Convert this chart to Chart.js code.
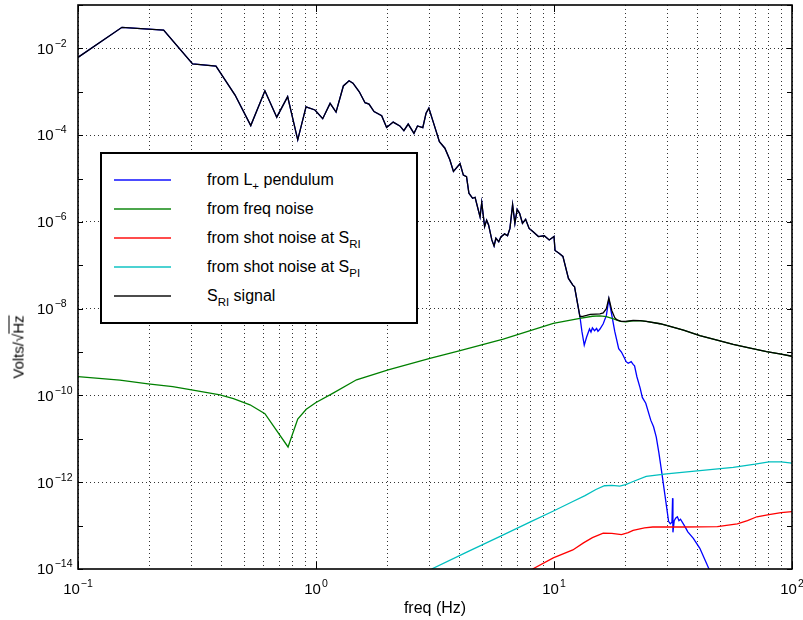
<!DOCTYPE html>
<html>
<head>
<meta charset="utf-8">
<script src="https://cdn.jsdelivr.net/npm/chart.js@4/dist/chart.umd.min.js"></script>
<style>
  html, body { margin: 0; padding: 0; background: #fff; }
  #wrap { position: relative; width: 803px; height: 620px; font-family: "Liberation Sans", Arial, Helvetica, sans-serif; color: #000; }
  #plot { position: absolute; left: 0; top: 0; width: 803px; height: 620px; }
  #legend { position: absolute; left: 100px; top: 152px; width: 314px; height: 168px; border: 2px solid #000; background: #fff; }
  .row { position: absolute; left: 0; width: 314px; height: 18px; }
  .swatch { position: absolute; left: 12px; top: 8px; width: 57px; height: 2px; }
  .txt { position: absolute; left: 105px; top: 0; font-size: 16px; line-height: 18px; white-space: nowrap; }
  .txt sub { font-size: 11.5px; vertical-align: -5px; line-height: 0; }
  #ytitle { position: absolute; left: 18px; top: 347px; transform: translate(-50%, -50%) rotate(-90deg); font-size: 15px; white-space: nowrap; }
  #ytitle .rad { text-decoration: overline; }
</style>
</head>
<body>
<div id="wrap">
  <canvas id="plot" width="803" height="620"></canvas>
  <div id="ytitle">Volts/√<span class="rad">Hz</span></div>
  <div id="legend"></div>
</div>
<script>
// Low band: the pendulum term dominates here and the S_RI signal equals it
const lowBandFreq = [0.1, 0.153, 0.229, 0.303, 0.38, 0.457, 0.532, 0.61, 0.684, 0.76, 0.838, 0.908, 0.99, 1.067, 1.146, 1.214, 1.303, 1.377, 1.43, 1.52, 1.607, 1.67, 1.753, 1.888, 1.98, 2.11, 2.25, 2.34, 2.44, 2.58, 2.67, 2.81, 2.9, 2.98, 3.11, 3.3, 3.48, 3.65, 3.78, 4.03, 4.16, 4.29, 4.39, 4.55, 4.66, 4.89, 4.97, 5.11, 5.21, 5.31, 5.48, 5.6, 5.7, 5.86, 5.98, 6.2, 6.38, 6.53, 6.7, 6.85, 7.0, 7.17, 7.37, 7.6, 7.86, 8.15, 8.6, 9.1, 9.55, 10.0, 10.1, 10.5, 10.9, 11.5, 12.0, 12.2, 12.85];
const lowBandAmp = [6.2e-3, 3.06e-2, 2.65e-2, 4.37e-3, 3.9e-3, 8.4e-4, 1.66e-4, 1.05e-3, 2.6e-4, 7.7e-4, 7.8e-5, 4.5e-4, 3.8e-4, 2.4e-4, 5.4e-4, 3.4e-4, 1.36e-3, 1.8e-3, 1.58e-3, 1.0e-3, 5.6e-4, 5.2e-4, 3.5e-4, 2.8e-4, 1.5e-4, 2.0e-4, 1.63e-4, 1.27e-4, 1.8e-4, 1.1e-4, 1.63e-4, 1.49e-4, 3.2e-4, 4.2e-4, 2.0e-4, 7.1e-5, 5.0e-5, 2.7e-5, 1.45e-5, 2.2e-5, 1.2e-5, 1.1e-5, 4.6e-6, 3.5e-6, 3.7e-6, 1.3e-6, 2.8e-6, 7.8e-7, 1.1e-6, 8.5e-7, 3.85e-7, 2.8e-7, 4.2e-7, 3.5e-7, 4.5e-7, 5.3e-7, 4.8e-7, 7.1e-7, 2.5e-6, 9.3e-7, 1.95e-6, 1.58e-6, 9.3e-7, 1.15e-6, 7.1e-7, 6.0e-7, 4.6e-7, 4.8e-7, 3.85e-7, 4.6e-7, 2.2e-7, 1.9e-7, 1.6e-7, 5.0e-8, 3.5e-8, 3.2e-8, 6.6e-9];

// Pendulum term above 13 Hz
const pendulumTailFreq = [13.1, 13.4, 13.7, 14.1, 14.3, 14.5, 14.8, 15.1, 15.3, 15.6, 16.1, 16.6, 17.0, 17.5, 18.0, 18.7, 19.2, 19.6, 20.1, 20.5, 21.1, 21.5, 21.8, 22.3, 23.0, 23.5, 24.3, 25.5, 26.2, 26.9, 27.6, 28.4, 29.3, 30.3, 30.8, 31.3, 31.5, 31.6, 32.0, 32.5, 33.0, 33.5, 34.0, 35.3, 36.5, 38.5, 41.0, 44.8, 47.0];
const pendulumTailAmp = [3.0e-9, 1.45e-9, 2.2e-9, 3.4e-9, 2.9e-9, 3.6e-9, 3.1e-9, 3.5e-9, 3.0e-9, 3.4e-9, 4.5e-9, 7.0e-9, 1.65e-8, 7.0e-9, 3.0e-9, 1.2e-9, 1.0e-9, 8.0e-10, 6.0e-10, 5.5e-10, 6.0e-10, 5.2e-10, 4.8e-10, 2.7e-10, 1.5e-10, 9.0e-11, 6.6e-11, 2.7e-11, 1.9e-11, 1.1e-11, 4.7e-12, 1.6e-12, 4.7e-13, 1.26e-13, 1.1e-13, 1.2e-13, 4.3e-13, 7.0e-14, 1.3e-13, 1.5e-13, 1.6e-13, 1.3e-13, 1.4e-13, 1.0e-13, 7.2e-14, 5.1e-14, 3.0e-14, 1.0e-14, 7.0e-15];

// S_RI signal above 13 Hz
const signalTailFreq = [13.1, 13.7, 14.2, 15.0, 15.6, 16.1, 16.6, 17.0, 17.5, 18.0, 18.4, 19.2, 20.0, 21.5, 23.0, 24.4, 27.9, 29.7, 35.0, 41.0, 48.0, 56.6, 66.0, 78.2, 90.0, 100.0];
const signalTailAmp = [6.6e-9, 7.0e-9, 7.4e-9, 7.5e-9, 7.6e-9, 8.0e-9, 1.0e-8, 1.75e-8, 9.0e-9, 6.2e-9, 5.5e-9, 5.1e-9, 5.1e-9, 5.35e-9, 5.3e-9, 5.1e-9, 4.5e-9, 4.1e-9, 3.2e-9, 2.4e-9, 1.9e-9, 1.5e-9, 1.25e-9, 1.03e-9, 9.0e-10, 8.0e-10];

// Frequency noise term
const freqNoiseFreq = [0.1, 0.15, 0.197, 0.25, 0.3, 0.395, 0.45, 0.528, 0.61, 0.763, 0.838, 0.91, 1.0, 1.18, 1.48, 2.01, 3.01, 4.03, 6.12, 9.93, 12.85, 14.5, 15.6, 16.6, 17.8, 19.0, 20.0, 21.5, 23.0, 24.4, 27.9, 29.7, 35.0, 41.0, 48.0, 56.6, 66.0, 78.2, 90.0, 100.0];
const freqNoiseAmp = [2.72e-10, 2.25e-10, 1.85e-10, 1.6e-10, 1.35e-10, 1.03e-10, 8.5e-11, 6.1e-11, 3.8e-11, 6.5e-12, 2.85e-11, 4.8e-11, 6.9e-11, 1.13e-10, 2.3e-10, 3.9e-10, 7.2e-10, 1.08e-9, 2.0e-9, 4.6e-9, 6.0e-9, 6.7e-9, 6.8e-9, 6.6e-9, 5.8e-9, 5.1e-9, 5.0e-9, 5.25e-9, 5.3e-9, 5.1e-9, 4.5e-9, 4.1e-9, 3.2e-9, 2.4e-9, 1.9e-9, 1.5e-9, 1.25e-9, 1.03e-9, 9.0e-10, 8.0e-10];

// Shot noise at S_RI
const shotRIFreq = [8.13, 9.93, 12.0, 13.3, 14.5, 16.1, 17.5, 19.2, 20.5, 21.5, 24.0, 26.0, 35.0, 48.6, 58.9, 65.0, 71.2, 80.0, 90.0, 100.0];
const shotRIAmp = [1.0e-14, 1.8e-14, 2.75e-14, 4.0e-14, 5.3e-14, 6.7e-14, 6.6e-14, 6.2e-14, 6.9e-14, 7.8e-14, 8.9e-14, 9.3e-14, 9.3e-14, 9.5e-14, 1.1e-13, 1.3e-13, 1.6e-13, 1.8e-13, 2.0e-13, 2.1e-13];

// Shot noise at S_PI
const shotPIFreq = [3.06, 4.3, 6.0, 8.0, 10.0, 12.0, 13.5, 15.0, 16.3, 17.5, 18.9, 20.0, 21.5, 24.4, 29.7, 41.0, 56.6, 70.0, 80.0, 90.0, 100.0];
const shotPIAmp = [1.0e-14, 2.45e-14, 5.8e-14, 1.24e-13, 2.2e-13, 3.6e-13, 4.9e-13, 6.8e-13, 8.3e-13, 8.5e-13, 8.1e-13, 8.8e-13, 1.04e-12, 1.36e-12, 1.55e-12, 1.85e-12, 2.2e-12, 2.6e-12, 2.95e-12, 2.95e-12, 2.75e-12];

// Axis ticks (powers of ten)
const xDecades = [-1, 0, 1, 2];
const xMinorSteps = [1, 2, 3, 4, 5, 6, 7, 8, 9];
const yDecades = [-14, -13, -12, -11, -10, -9, -8, -7, -6, -5, -4, -3, -2, -1];
const yLabelled = [-14, -12, -10, -8, -6, -4, -2];

const seriesLabels = [
  'from L<sub>+</sub> pendulum',
  'from freq noise',
  'from shot noise at S<sub>RI</sub>',
  'from shot noise at S<sub>PI</sub>',
  'S<sub>RI</sub> signal'
];
const seriesColors = ['#0000ff', '#008000', '#ff0000', '#00bfbf', '#000000'];

const pts = (fs, vs) => fs.map((f, i) => ({ x: f, y: vs[i] }));
const expText = e => String(e).replace('-', '\u2212');

const xTickValues = [];
xDecades.forEach(e => {
  if (e === xDecades[xDecades.length - 1]) { xTickValues.push(Math.pow(10, e)); return; }
  xMinorSteps.forEach(k => xTickValues.push(k * Math.pow(10, e)));
});

const decadeOf = v => Math.round(Math.log10(v));
const isDecade = v => Math.abs(Math.log10(v) - decadeOf(v)) < 1e-6;

const FONT = '"Liberation Sans", Arial, Helvetica, sans-serif';
const BASE_PX = 15, EXP_PX = 10.5;

// Draws "10" with a raised exponent for every labelled tick of a scale
function drawPowerLabels(ctx, scale, horizontal) {
  ctx.save();
  ctx.fillStyle = '#000';
  ctx.textBaseline = 'alphabetic';
  ctx.textAlign = 'left';
  scale.ticks.forEach(t => {
    if (!t.label) return;
    const e = expText(decadeOf(t.value));
    ctx.font = BASE_PX + 'px ' + FONT;
    const wBase = ctx.measureText('10').width;
    ctx.font = EXP_PX + 'px ' + FONT;
    const wExp = ctx.measureText(e).width;
    const p = scale.getPixelForValue(t.value);
    let xb, yb;
    if (horizontal) {
      xb = p - (wBase + wExp + 1) / 2;
      yb = scale.top + 24.5;
    } else {
      xb = 37;
      yb = p + 5.3;
    }
    ctx.font = BASE_PX + 'px ' + FONT;
    ctx.fillText('10', xb, yb);
    ctx.font = EXP_PX + 'px ' + FONT;
    ctx.fillText(e, xb + wBase + 1, yb - 7);
  });
  ctx.restore();
}

// Axes frame with inward decade ticks, plus tick labels
const framePlugin = {
  id: 'frame',
  afterDatasetsDraw(chart) {
    const { ctx, chartArea: a, scales: { x, y } } = chart;
    ctx.save();
    ctx.strokeStyle = '#000';
    ctx.lineWidth = 1;
    ctx.beginPath();
    yDecades.forEach(e => {
      const py = Math.round(y.getPixelForValue(Math.pow(10, e))) + 0.5;
      ctx.moveTo(a.left, py); ctx.lineTo(a.left + 5, py);
      ctx.moveTo(a.right, py); ctx.lineTo(a.right - 5, py);
    });
    xDecades.forEach(e => {
      const px = Math.round(x.getPixelForValue(Math.pow(10, e))) + 0.5;
      ctx.moveTo(px, a.bottom); ctx.lineTo(px, a.bottom - 7);
      ctx.moveTo(px, a.top); ctx.lineTo(px, a.top + 7);
    });
    ctx.stroke();
    ctx.lineWidth = 1.6;
    ctx.strokeRect(a.left, a.top, a.right - a.left, a.bottom - a.top);
    ctx.restore();
  },
  afterDraw(chart) {
    drawPowerLabels(chart.ctx, chart.scales.x, true);
    drawPowerLabels(chart.ctx, chart.scales.y, false);
  }
};

Chart.defaults.font.family = FONT;
Chart.defaults.color = '#000';

const lineStyle = (color, order) => ({
  borderColor: color, backgroundColor: color, borderWidth: 1.3,
  pointRadius: 0, tension: 0, fill: false, order: order
});

new Chart(document.getElementById('plot'), {
  type: 'line',
  data: {
    datasets: [
      Object.assign({ label: 'from L+ pendulum', data: pts(lowBandFreq.concat(pendulumTailFreq), lowBandAmp.concat(pendulumTailAmp)) }, lineStyle(seriesColors[0], 4)),
      Object.assign({ label: 'from freq noise', data: pts(freqNoiseFreq, freqNoiseAmp) }, lineStyle(seriesColors[1], 3)),
      Object.assign({ label: 'from shot noise at S_RI', data: pts(shotRIFreq, shotRIAmp) }, lineStyle(seriesColors[2], 2)),
      Object.assign({ label: 'from shot noise at S_PI', data: pts(shotPIFreq, shotPIAmp) }, lineStyle(seriesColors[3], 1)),
      Object.assign({ label: 'S_RI signal', data: pts(lowBandFreq.concat(signalTailFreq), lowBandAmp.concat(signalTailAmp)) }, lineStyle(seriesColors[4], 0))
    ]
  },
  options: {
    responsive: false,
    animation: false,
    events: [],
    layout: { padding: { left: 0, right: 11, top: 5, bottom: 0 } },
    plugins: { legend: { display: false }, tooltip: { enabled: false } },
    scales: {
      x: {
        type: 'logarithmic',
        min: 0.1, max: 100,
        afterBuildTicks: s => { s.ticks = xTickValues.map(v => ({ value: v })); },
        afterFit: s => { s.height = 51; s.paddingLeft = 0; s.paddingRight = 0; },
        ticks: {
          display: false, autoSkip: false, maxRotation: 0,
          callback: v => isDecade(v) ? '10^' + decadeOf(v) : ''
        },
        grid: { color: '#333', lineWidth: 1, drawTicks: false },
        border: { display: false, dash: [1, 3] },
        title: { display: true, text: 'freq (Hz)', font: { size: 16 }, padding: { top: 0, bottom: 2 } }
      },
      y: {
        type: 'logarithmic',
        min: 1e-14, max: 1e-1,
        afterBuildTicks: s => { s.ticks = yDecades.map(e => ({ value: Math.pow(10, e) })); },
        afterFit: s => { s.width = 78; s.paddingTop = 0; s.paddingBottom = 0; },
        ticks: {
          display: false, autoSkip: false,
          callback: v => yLabelled.includes(decadeOf(v)) ? '10^' + decadeOf(v) : ''
        },
        grid: {
          drawTicks: false, lineWidth: 1,
          color: c => (c.tick && yLabelled.includes(decadeOf(c.tick.value)) && decadeOf(c.tick.value) !== -14) ? '#333' : 'rgba(0,0,0,0)'
        },
        border: { display: false, dash: [1, 3] }
      }
    }
  },
  plugins: [framePlugin]
});

// Legend box
const legend = document.getElementById('legend');
const rowCentres = [26, 55, 84, 113, 142];
seriesLabels.forEach((html, i) => {
  const row = document.createElement('div');
  row.className = 'row';
  row.style.top = (rowCentres[i] - 9) + 'px';
  const sw = document.createElement('div');
  sw.className = 'swatch';
  sw.style.background = seriesColors[i];
  sw.style.opacity = '0.7';
  const t = document.createElement('div');
  t.className = 'txt';
  t.innerHTML = html;
  row.appendChild(sw);
  row.appendChild(t);
  legend.appendChild(row);
});
</script>
</body>
</html>
